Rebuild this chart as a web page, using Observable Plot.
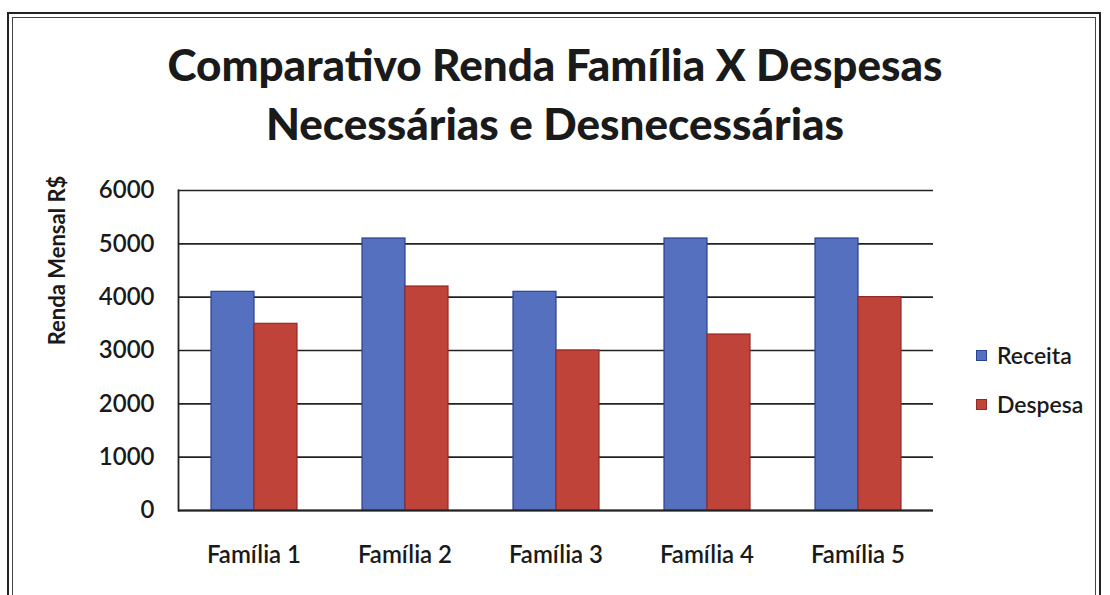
<!DOCTYPE html>
<html>
<head>
<meta charset="utf-8">
<script src="https://cdn.jsdelivr.net/npm/d3@7"></script>
<script src="https://cdn.jsdelivr.net/npm/@observablehq/plot@0.6"></script>
<style>
  html, body { margin: 0; padding: 0; background: #fff; }
  body { width: 1110px; height: 595px; position: relative; overflow: hidden; font-family: Lato, "Open Sans", sans-serif; }
  #outer { position: absolute; left: 7px; top: 12px; width: 1094px; height: 600px; border: 2px solid #222; box-sizing: border-box; }
  #inner { position: absolute; left: 12px; top: 17px; width: 1084px; height: 600px; border: 1.5px solid #444; box-sizing: border-box; }
  #title { position: absolute; left: 0; top: 35px; width: 1110px; text-align: center; font-weight: 900; font-size: 44px; line-height: 59px; color: #1a1a1a; }
  #chart { position: absolute; left: 0; top: 150px; }
  #legend { position: absolute; left: 976px; top: 340px; font-size: 23px; font-weight: 600; color: #1a1a1a; }
  .li { display: flex; align-items: center; height: 30px; margin-bottom: 19px; }
  .sw { width: 11px; height: 11px; margin-right: 10px; box-sizing: border-box; }
</style>
</head>
<body>
<div id="outer"></div>
<div id="inner"></div>
<div id="title">Comparativo Renda Família X Despesas<br>Necessárias e Desnecessárias</div>
<div id="chart"></div>
<div id="legend"></div>
<script>
const familias = ["Família 1", "Família 2", "Família 3", "Família 4", "Família 5"];
const series = ["Receita", "Despesa"];
const receita = [4100, 5100, 4100, 5100, 5100];
const despesa = [3500, 4200, 3000, 3300, 4000];
const yTicks = [0, 1000, 2000, 3000, 4000, 5000, 6000];
const colors = ["#5470be", "#c0433a"];
const strokes = ["#2c418f", "#952a24"];

const data = [];
familias.forEach((f, i) => {
  data.push({familia: f, serie: series[0], valor: receita[i]});
  data.push({familia: f, serie: series[1], valor: despesa[i]});
});

const plot = Plot.plot({
  width: 1110,
  height: 440,
  marginLeft: 177,
  marginRight: 177,
  marginTop: 40,
  marginBottom: 80,
  style: {fontFamily: "Lato, 'Open Sans', sans-serif", fontSize: "24px", color: "#1a1a1a", background: "transparent"},
  fx: {domain: familias, padding: 0, label: null},
  x: {domain: series, paddingInner: 0, paddingOuter: 0.718, axis: null},
  y: {domain: [0, 6000], ticks: yTicks, label: null},
  color: {domain: series, range: colors},
  marks: [
    Plot.ruleY(yTicks, {stroke: "#222", strokeWidth: 1.6}),
    Plot.barY(data, {fx: "familia", x: "serie", y: "valor", fill: "serie", stroke: d => strokes[series.indexOf(d.serie)], strokeWidth: 1.2}),
    Plot.ruleY([0], {stroke: "#222", strokeWidth: 1.8}),
    Plot.frame({anchor: "left", facetAnchor: "left", stroke: "#222", strokeWidth: 1.8}),
    Plot.axisY({ticks: yTicks, tickSize: 0, tickPadding: 24, fontSize: 24, fontWeight: 600, label: null, tickFormat: d => String(d)}),
    Plot.axisFx({anchor: "bottom", tickSize: 0, tickPadding: 35, fontSize: 24, fontWeight: 600, label: null}),
    Plot.text(["Renda Mensal R$"], {frameAnchor: "left", textAnchor: "middle", rotate: -90, dx: -121, dy: -90, fontSize: 22, fontWeight: 700, facetAnchor: "left"})
  ]
});
document.getElementById("chart").appendChild(plot);

const legend = document.getElementById("legend");
series.forEach((s, i) => {
  const row = document.createElement("div");
  row.className = "li";
  const sw = document.createElement("div");
  sw.className = "sw";
  sw.style.background = colors[i];
  sw.style.border = "1px solid " + strokes[i];
  const t = document.createElement("span");
  t.textContent = s;
  row.appendChild(sw);
  row.appendChild(t);
  legend.appendChild(row);
});
</script>
</body>
</html>
